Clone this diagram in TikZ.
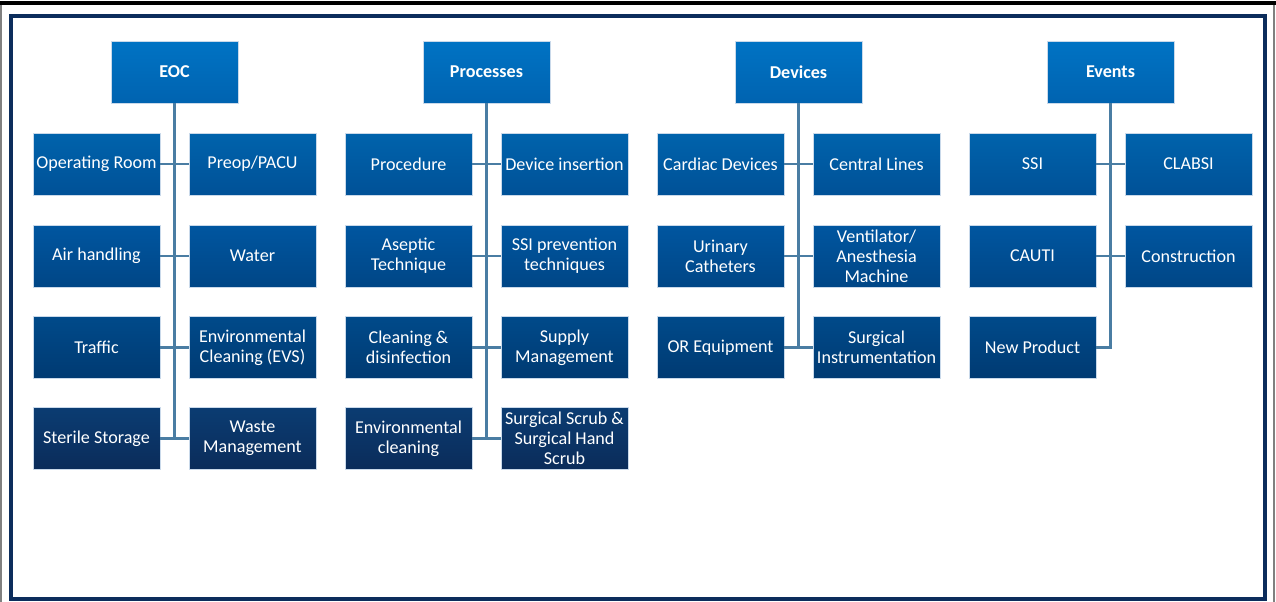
\documentclass[tikz,border=0pt]{standalone}
\usepackage{fontspec}
\setmainfont{Carlito}
\usepackage{tikz}
\definecolor{frameblue}{HTML}{0C2D5C}
\definecolor{linkblue}{HTML}{4A7DA3}
\definecolor{boxedge}{HTML}{C9D9EA}
\definecolor{hdtop}{HTML}{0073C4}
\definecolor{hdbot}{HTML}{0063B0}
\definecolor{ratop}{HTML}{0063AC}
\definecolor{rabot}{HTML}{005197}
\definecolor{rbtop}{HTML}{0056A0}
\definecolor{rbbot}{HTML}{004686}
\definecolor{rctop}{HTML}{004A8A}
\definecolor{rcbot}{HTML}{003A72}
\definecolor{rdtop}{HTML}{0B3C72}
\definecolor{rdbot}{HTML}{0B2C5A}

\begin{document}
\begin{tikzpicture}[x=0.02cm,y=-0.02cm,
  box/.style={rectangle, draw=boxedge, line width=0.5pt, minimum width=2.54cm, minimum height=1.24cm, inner sep=1pt, align=center, text=white, font=\fontsize{10.3}{11.3}\selectfont},
  head node/.style={box, top color=hdtop, bottom color=hdbot, font=\bfseries\fontsize{10.3}{11.3}\selectfont},
  rowa node/.style={box, top color=ratop, bottom color=rabot},
  rowb node/.style={box, top color=rbtop, bottom color=rbbot},
  rowc node/.style={box, top color=rctop, bottom color=rcbot},
  rowd node/.style={box, top color=rdtop, bottom color=rdbot},
  link/.style={draw=linkblue, line width=1.3pt}]
			\useasboundingbox (0,0) rectangle (1276,602);
			% Outer page lines and frame
			\draw[line width=1.8pt] (0,3) -- (1276,3);
			\draw[gray, line width=0.8pt] (1,5) -- (1,602);
			\draw[gray, line width=0.8pt] (1274,5) -- (1274,602);
			\draw[frameblue, line width=1.8pt] (11,16) rectangle (1265,599);
			
			% EOC
			\node[head node] (eoc) at (174.5,72) {EOC};
			\node[rowa node] (eoc1) at (96.5,164) {Operating Room};
			\node[rowa node] (eoc2) at (252.5,164) {Preop/PACU};
			\node[rowb node] (eoc3) at (96.5,256) {Air handling};
			\node[rowb node] (eoc4) at (252.5,256) {Water};
			\node[rowc node] (eoc5) at (96.5,347.5) {Traffic};
			\node[rowc node] (eoc6) at (252.5,347.5) {Environmental\\Cleaning (EVS)};
			\node[rowd node] (eoc7) at (96.5,438.5) {Sterile Storage};
			\node[rowd node] (eoc8) at (252.5,438.5) {Waste\\Management};
			
			% Processes
			\node[head node] (proc) at (486.5,72) {Processes};
			\node[rowa node] (proc1) at (408.5,164) {Procedure};
			\node[rowa node] (proc2) at (564.5,164) {Device insertion};
			\node[rowb node] (proc3) at (408.5,256) {Aseptic\\Technique};
			\node[rowb node] (proc4) at (564.5,256) {SSI prevention\\techniques};
			\node[rowc node] (proc5) at (408.5,347.5) {Cleaning \&\\disinfection};
			\node[rowc node] (proc6) at (564.5,347.5) {Supply\\Management};
			\node[rowd node] (proc7) at (408.5,438.5) {Environmental\\cleaning};
			\node[rowd node] (proc8) at (564.5,438.5) {Surgical Scrub \&\\Surgical Hand\\Scrub};
			
			% Devices
			\node[head node] (dev) at (798.5,72) {Devices};
			\node[rowa node] (dev1) at (720.5,164) {Cardiac Devices};
			\node[rowa node] (dev2) at (876.5,164) {Central Lines};
			\node[rowb node] (dev3) at (720.5,256) {Urinary\\Catheters};
			\node[rowb node] (dev4) at (876.5,256) {Ventilator/\\Anesthesia\\Machine};
			\node[rowc node] (dev5) at (720.5,347.5) {OR Equipment};
			\node[rowc node] (dev6) at (876.5,347.5) {Surgical\\Instrumentation};
			
			% Events
			\node[head node] (evt) at (1110.5,72) {Events};
			\node[rowa node] (evt1) at (1032.5,164) {SSI};
			\node[rowa node] (evt2) at (1188.5,164) {CLABSI};
			\node[rowb node] (evt3) at (1032.5,256) {CAUTI};
			\node[rowb node] (evt4) at (1188.5,256) {Construction};
			\node[rowc node] (evt5) at (1032.5,347.5) {New Product};
			
			% Connectors
			\draw[link] (eoc.south) -- (eoc.south |- eoc7.east);
			\draw[link] (eoc1) -- (eoc2);
			\draw[link] (eoc3) -- (eoc4);
			\draw[link] (eoc5) -- (eoc6);
			\draw[link] (eoc7) -- (eoc8);
			
			\draw[link] (proc.south) -- (proc.south |- proc7.east);
			\draw[link] (proc1) -- (proc2);
			\draw[link] (proc3) -- (proc4);
			\draw[link] (proc5) -- (proc6);
			\draw[link] (proc7) -- (proc8);
			
			\draw[link] (dev.south) -- (dev.south |- dev5.east);
			\draw[link] (dev1) -- (dev2);
			\draw[link] (dev3) -- (dev4);
			\draw[link] (dev5) -- (dev6);
			
			\draw[link] (evt.south) -- (evt.south |- evt5.east) -- (evt5);
			\draw[link] (evt1) -- (evt2);
			\draw[link] (evt3) -- (evt4);
			
		\end{tikzpicture}
\end{document}
